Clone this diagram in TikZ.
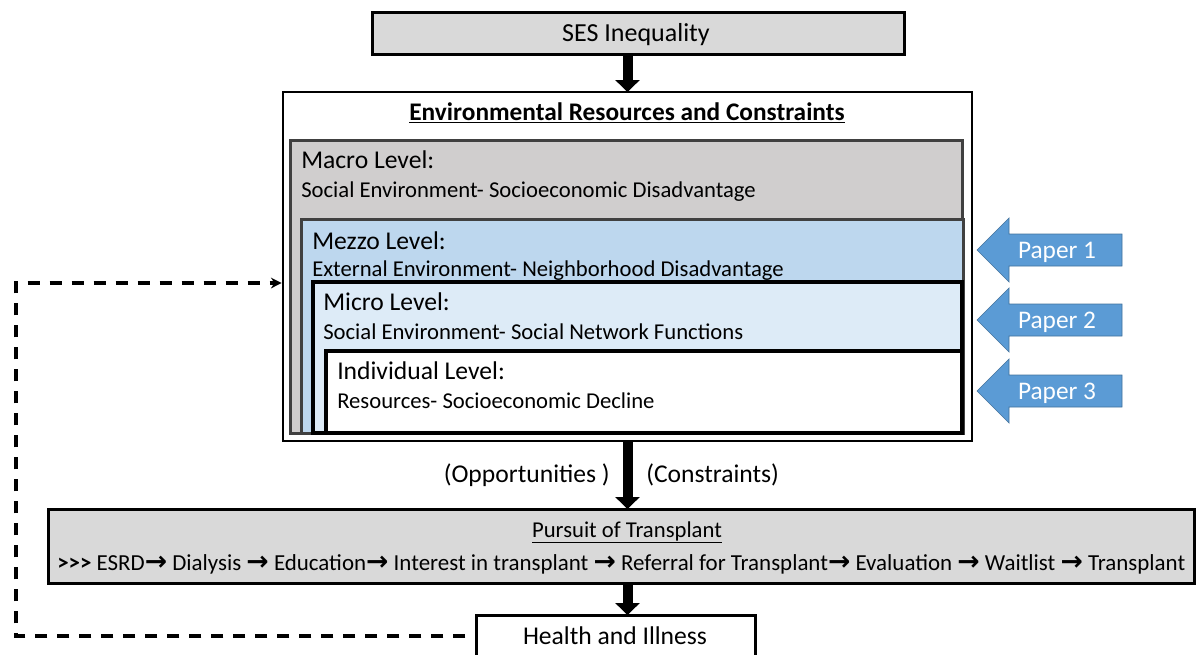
\documentclass[tikz,border=0pt]{standalone}
\usepackage{fontspec}
\setmainfont{Carlito}
\newfontfamily\arrfont{DejaVu Sans}
\usetikzlibrary{arrows.meta}
\definecolor{boxgray}{HTML}{D9D9D9}
\definecolor{macrogray}{HTML}{D0CECE}
\definecolor{darkline}{HTML}{404040}
\definecolor{mezzoblue}{HTML}{BDD7EE}
\definecolor{microblue}{HTML}{DDEBF7}
\definecolor{paperfill}{HTML}{5B9BD5}
\definecolor{paperline}{HTML}{41719C}
\newcommand\pxbox[6]{\node[#6,minimum width={((#4)-(#2))*0.75pt},minimum height={((#5)-(#3))*0.75pt},inner sep=0pt,outer sep=0pt] (#1) at ({((#2)+(#4))/2},{((#3)+(#5))/2}) {};}
\newcommand\paperarrow[3]{%
  \filldraw[paperarr] (977,#2) -- ++(32,-32) -- ++(0,16) -- ++(113,0) -- ++(0,32) -- ++(-113,0) -- ++(0,16) -- cycle;
  \node[papertext,anchor=base] (#1) at (1057,#2+8) {#3};}
\newcommand\ar{{\arrfont\bfseries\fontsize{20}{20}\selectfont →}}
\tikzset{
  sesbox/.style={draw=black,line width=2.25pt,fill=boxgray},
  outerbox/.style={draw=black,line width=2.2pt,fill=white},
  macrobox/.style={draw=darkline,line width=2.25pt,fill=macrogray},
  mezzobox/.style={draw=darkline,line width=2.25pt,fill=mezzoblue},
  microbox/.style={draw=black,line width=2.4pt,fill=microblue},
  indivbox/.style={draw=black,line width=2.4pt,fill=white},
  pursuitbox/.style={draw=black,line width=2.25pt,fill=boxgray},
  healthbox/.style={draw=black,line width=2.25pt,fill=white},
  paperarr/.style={fill=paperfill,draw=paperline,line width=0.5pt},
  papertext/.style={text=white,font=\fontsize{19}{22}\selectfont,inner sep=0pt},
  bodytext/.style={font=\fontsize{17}{20}\selectfont,inner sep=0pt,anchor=base west},
  headtext/.style={font=\fontsize{19.2}{22}\selectfont,inner sep=0pt,anchor=base west},
  bigtext/.style={font=\fontsize{19.2}{22}\selectfont,inner sep=0pt},
  bigarrow/.style={line width=7.5pt,-{Triangle[width=18pt,length=9pt]}},
  feedback/.style={line width=2.5pt,dash pattern=on 9.5pt off 7pt,-{Stealth[length=8pt,width=8pt]}},
}
\begin{document}
\begin{tikzpicture}[x=0.75pt,y=-0.75pt]
\useasboundingbox (0,0) rectangle (1196,654);
% top box
\pxbox{ses}{372}{12}{904}{54}{sesbox}
\node[font=\fontsize{19.5}{22}\selectfont,inner sep=0pt,anchor=base] (sestext) at (636,41) {SES Inequality};
% outer frame
\pxbox{outer}{283}{92}{972}{441}{outerbox}
\node[font=\bfseries\fontsize{19}{22}\selectfont,inner sep=0pt,anchor=base] (title) at (627,120) {\underline{Environmental Resources and Constraints}};
% levels
\pxbox{macro}{290}{140}{962}{433}{macrobox}
\node[headtext] (macroh) at (301,168) {Macro Level:};
\node[bodytext] (macrob) at (301,197) {Social Environment- Socioeconomic Disadvantage};
\pxbox{mezzo}{301}{219}{963}{433}{mezzobox}
\node[headtext] (mezzoh) at (312,249) {Mezzo Level:};
\node[bodytext] (mezzob) at (312,276) {External Environment- Neighborhood Disadvantage};
\pxbox{micro}{313}{282}{962}{433}{microbox}
\node[headtext] (microh) at (323,310) {Micro Level:};
\node[bodytext] (microb) at (323,339) {Social Environment- Social Network Functions};
\pxbox{indiv}{326}{351}{962}{433}{indivbox}
\node[headtext] (indivh) at (337,379) {Individual Level:};
\node[bodytext] (indivb) at (337,408) {Resources- Socioeconomic Decline};
% paper arrows
\paperarrow{p1}{250}{Paper 1}
\paperarrow{p2}{320}{Paper 2}
\paperarrow{p3}{391}{Paper 3}
% pursuit
\pxbox{pursuit}{48}{509}{1194}{583}{pursuitbox}
\node[font=\fontsize{17}{20}\selectfont,inner sep=0pt,anchor=base] (ptitle) at (627,537) {\underline{Pursuit of Transplant}};
\node[bodytext,font=\fontsize{17.2}{20}\selectfont] (pline) at (57,570) {\textbf{>\kern0pt>\kern0pt>} ESRD\ar{} Dialysis \ar{} Education\ar{} Interest in transplant \ar{} Referral for Transplant\ar{} Evaluation \ar{} Waitlist \ar{} Transplant};
% health
\pxbox{health}{476}{615}{755}{657}{healthbox}
\node[bigtext,anchor=base] (htext) at (615,644) {Health and Illness};
% connectors
\draw[bigarrow] (ses.south -| outer.north) -- (outer.north);
\draw[bigarrow] (outer.south) -- (outer.south |- pursuit.north);
\draw[bigarrow] (pursuit.south -| outer.south) -- (outer.south |- health.north);
\node[bigtext,anchor=base east] (opp) at (610,482) {(Opportunities )};
\node[bigtext,anchor=base west] (con) at (646,482) {(Constraints)};
\coordinate (fbc) at (16,283);
\draw[feedback] ([xshift=-8pt]health.west |- 0,636) -| (fbc) -- ([xshift=-1pt]outer.west |- fbc);
\end{tikzpicture}
\end{document}
